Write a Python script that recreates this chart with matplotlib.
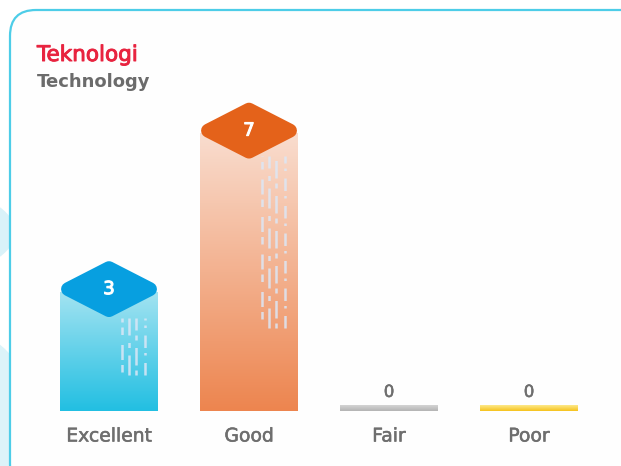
import matplotlib.pyplot as plt
import numpy as np
from matplotlib import transforms
import matplotlib.patheffects as pe
from matplotlib.patches import FancyBboxPatch, Polygon, Ellipse
from matplotlib.colors import LinearSegmentedColormap

categories = ['Excellent', 'Good', 'Fair', 'Poor']
values = [3, 7, 0, 0]
title_id = 'Teknologi'
title_en = 'Technology'

bar_top = ['#a3e3f1', '#f9ddcf', '#d4d4d4', '#fde98a']
bar_bottom = ['#22bfe2', '#ed854f', '#b4b4b4', '#f6c21c']
badge_colors = ['#079fe0', '#e4621a']


def thick(color, w=0.5):
    # slightly heavier glyphs than the regular face
    return [pe.withStroke(linewidth=w, foreground=color)]


W, H = 621, 466
fig = plt.figure(figsize=(W / 100, H / 100), dpi=100)
fig.patch.set_facecolor('white')

# background layer in pixel units
bg = fig.add_axes([0, 0, 1, 1])
bg.set_xlim(0, W)
bg.set_ylim(H, 0)
bg.axis('off')
bg.add_patch(Ellipse((-55, 232), 140, 80, color='#d9f2f9', lw=0))
bg.add_patch(Ellipse((-40, 425), 150, 190, color='#dcf3f9', lw=0))
bg.add_patch(FancyBboxPatch((10, 10), 640, 480,
                            boxstyle='round,pad=0,rounding_size=26',
                            facecolor='#fefefe', edgecolor='#4dcde8', lw=1.6))
bg.text(37, 61, title_id, color='#e8233f', fontsize=15.5, ha='left', va='baseline',
        path_effects=thick('#e8233f', 0.7))
bg.text(37, 87, title_en, color='#6b6b6b', fontsize=13, fontweight='bold',
        ha='left', va='baseline')

# chart axes: value 0 sits at y=411 px
ax = fig.add_axes([39 / W, (H - 411) / H, 560 / W, 317 / H])
ax.set_xlim(-0.5, 3.5)
ax.set_ylim(0, 8)
ax.axis('off')
ax.patch.set_alpha(0)

bar_w = 0.7
stub = 0.15
x = np.arange(len(categories))

for i, (xi, v) in enumerate(zip(x, values)):
    h = v if v > 0 else stub
    cmap = LinearSegmentedColormap.from_list('g%d' % i, [bar_bottom[i], bar_top[i]])
    grad = np.linspace(0, 1, 256).reshape(-1, 1)
    ax.imshow(grad, cmap=cmap, origin='lower', aspect='auto',
              extent=(xi - bar_w / 2, xi + bar_w / 2, 0, h), zorder=2)

    if v > 0:
        # faint dashed streaks on the bar face
        cols = [0.09, 0.14, 0.19, 0.255]
        dashes = [(3, 2, 6, 4), (8, 3, 2, 3), (2, 2, 7, 3), (5, 3, 1, 2)]
        for c, d in zip(cols, dashes):
            y0 = v * (0.3 if c != 0.09 else 0.33)
            y1 = v * (0.92 if v > 5 else 0.78)
            ax.plot([xi + c, xi + c], [y0, y1], color='#dce7f6', lw=1.8,
                    dashes=d, alpha=0.85, zorder=3, solid_capstyle='round')

        # rounded diamond badge with the value
        tr = fig.dpi_scale_trans + transforms.ScaledTranslation(xi, v, ax.transData)
        hw, hh, dy = 0.41, 0.21, 0.03
        diamond = Polygon([(-hw, dy), (0, dy + hh), (hw, dy), (0, dy - hh)],
                          closed=True, transform=tr, facecolor=badge_colors[i],
                          edgecolor=badge_colors[i], lw=10, joinstyle='round',
                          zorder=4)
        ax.add_patch(diamond)
        ax.text(0, dy, str(v), transform=tr, color='white', fontsize=13,
                ha='center', va='center', zorder=5, path_effects=thick('white', 0.8))
    else:
        ax.annotate(str(v), (xi, h), xytext=(0, 3), textcoords='offset points',
                    ha='center', va='bottom', color='#6e6e6e', fontsize=12,
                    path_effects=thick('#6e6e6e', 0.4))

    ax.annotate(categories[i], (xi, 0), xytext=(0, -25), textcoords='offset pixels',
                ha='center', va='center', color='#6e6e6e', fontsize=13.5,
                path_effects=thick('#6e6e6e', 0.4))

fig.savefig('out.png', dpi=100)
